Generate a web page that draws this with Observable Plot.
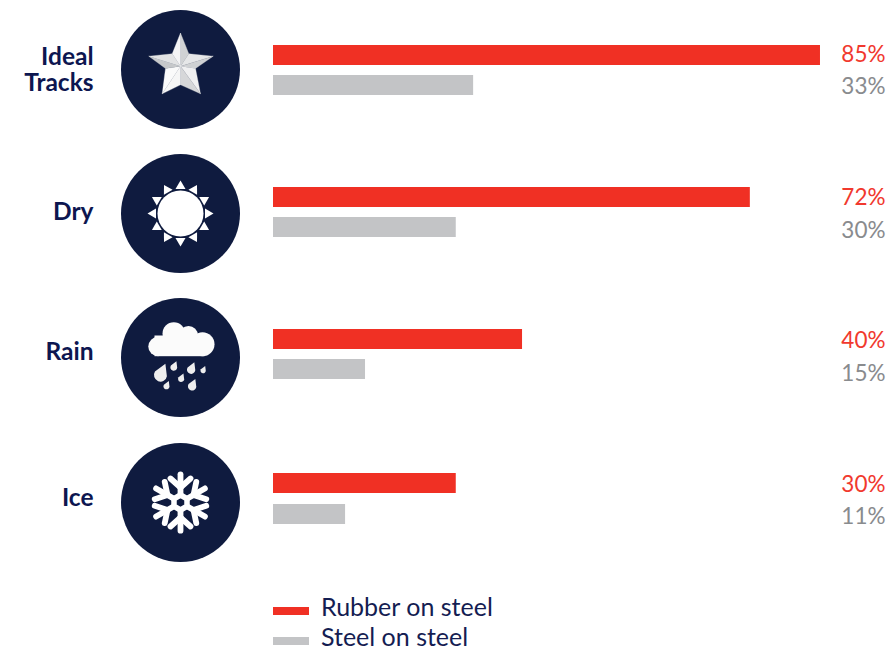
<!DOCTYPE html>
<html>
<head>
<meta charset="utf-8">
<script src="https://cdn.jsdelivr.net/npm/d3@7"></script>
<script src="https://cdn.jsdelivr.net/npm/@observablehq/plot@0.6"></script>
<style>
html,body{margin:0;padding:0;background:#fff;overflow:hidden}
#chart svg{display:block;background:#fff}
#legend{position:relative;height:51px;font-family:Lato,sans-serif}
.sw{position:absolute;width:36px;height:8px}
.lb{position:absolute;white-space:nowrap;font-size:25px;line-height:18px;color:#141d52}
</style>
</head>
<body>
<div id="chart"></div>
<div id="legend"></div>
<script>
const conditions = ["Ideal\nTracks", "Dry", "Rain", "Ice"];
const series = ["Rubber on steel", "Steel on steel"];
const rubberLabels = ["85%", "72%", "40%", "30%"];
const steelLabels = ["33%", "30%", "15%", "11%"];
// bar lengths as drawn in the picture, in the units of the x axis (percent)
const rubberBars = [85, 74.1, 38.7, 28.4];
const steelBars = [31.1, 28.4, 14.3, 11.2];

const RED = "#f03024", GRAY = "#c3c4c6", NAVY = "#0f1b3f", TEXT = "#0d1650", GTEXT = "#898b8e", REDTEXT = "#f1392e";

// ---- pictograms
const wrap = s => "data:image/svg+xml;utf8," + encodeURIComponent(
  `<svg xmlns="http://www.w3.org/2000/svg" viewBox="0 0 100 100" width="100" height="100">${s}</svg>`);
const star = (() => {
  const c = [50, 46.7];
  const pts = [[50,13.5],[58.3,34.3],[82.7,36.7],[65,49],[70,74.3],[50,65.3],[31.7,74.3],[35,49],[18.3,36.7],[41.7,34.3]];
  const fills = ["#d0d2d4","#e6e7e8","#cfd1d3","#f0f0f1","#d6d7d9","#f6f6f6","#fafafa","#c6c8ca","#e2e3e4","#f4f4f5"];
  return pts.map((p, i) => {
    const q = pts[(i + 1) % 10];
    return `<path d="M${c}L${p}L${q}Z" fill="${fills[i]}" stroke="${fills[i]}" stroke-width=".3"/>`;
  }).join("");
})();
const sun = (() => {
  let s = `<circle cx="50" cy="50" r="23" fill="#fff"/>`;
  for (let a = 0; a < 360; a += 30)
    s += `<path d="M50 17L55 25.5L45 25.5Z" fill="#fff" transform="rotate(${a} 50 50)"/>`;
  return s;
})();
const drop = (x, y, r) => {
  const X = v => 10 + v / 3, Y = v => 8 + v / 3;
  const cx = X(x), cy = Y(y), R = 1.15 * r / 3;
  return `<path d="M${cx + .75 * R} ${cy - 1.7 * R}L${cx - .85 * R} ${cy - .5 * R}A${R} ${R} 0 1 0 ${cx + .98 * R} ${cy + .2 * R}Z" fill="#eeeeee"/>`;
};
const rain = `<g fill="#fbfbfb"><circle cx="43.3" cy="26" r="11.3"/><circle cx="58" cy="28" r="9.5"/><circle cx="72" cy="36.7" r="12"/><circle cx="27.5" cy="39" r="9.7"/><rect x="24" y="28" width="50" height="20.7"/></g>`
  + [[60,178,17],[100,155,9],[152,162,11],[188,165,7],[122,190,8],[78,212,8],[155,212,11]].map(d => drop(...d)).join("");
const snow = (() => {
  let s = `<g fill="none" stroke="#fff" stroke-linecap="round" stroke-linejoin="round"><path d="M50 42.5L56.5 46.25V53.75L50 57.5L43.5 53.75V46.25Z" stroke-width="5.5"/>`;
  for (let a = 0; a < 360; a += 60)
    s += `<g transform="rotate(${a} 50 50)" stroke-width="5.8"><path d="M50 41V21.8"/><path d="M50 35L40 26"/><path d="M50 35L60 26"/></g>`;
  return s + "</g>";
})();
const icons = [star, sun, rain, snow].map(wrap);

// ---- chart
const rows = conditions.map((name, i) => ({
  name, rubber: rubberBars[i], steel: steelBars[i], rl: rubberLabels[i], sl: steelLabels[i], icon: icons[i]
}));
const circleDy = [14, 16, 18, 21];   // circle centre relative to the red bar centre
const nameDy = [14, 14, 12, 16];
const redBarDy = [0, 0, 0, 2];
const greyBarDy = [30, 30, 30, 33];
const redDy = [-1, 0, 1, 3];
const greyDy = [31, 33, 34, 35];
const each = (f) => rows.flatMap((d, i) => f([d], i));

const chart = Plot.plot({
  width: 893,
  height: 595,
  margin: 0,
  x: {domain: [0, 100], range: [273, 916.5], axis: null},
  y: {type: "band", domain: conditions, range: [45, 493], paddingInner: 0.86, paddingOuter: 0, align: 0, axis: null},
  marks: [
    each((d, i) => Plot.barX(d, {y: "name", x: "rubber", fill: RED, dy: redBarDy[i]})),
    each((d, i) => Plot.barX(d, {y: "name", x: "steel", fill: GRAY, dy: greyBarDy[i]})),
    each((d, i) => Plot.dot(d, {y: "name", frameAnchor: "left", dx: 180, dy: circleDy[i], r: 59.5, fill: NAVY, stroke: null})),
    each((d, i) => Plot.image(d, {y: "name", frameAnchor: "left", dx: 180, dy: circleDy[i], width: 100, height: 100, src: "icon"})),
    each((d, i) => Plot.text(d, {
      y: "name", text: "name", frameAnchor: "left", dx: 93, dy: nameDy[i], textAnchor: "end",
      fontFamily: "Lato", fontWeight: 700, fontSize: 24.5, lineHeight: 1.07, fill: TEXT
    })),
    each((d, i) => Plot.text(d, {
      y: "name", text: "rl", frameAnchor: "right", dx: -8, dy: redDy[i], textAnchor: "end",
      fontFamily: "Lato", fontSize: 22.5, fill: REDTEXT
    })),
    each((d, i) => Plot.text(d, {
      y: "name", text: "sl", frameAnchor: "right", dx: -8, dy: greyDy[i], textAnchor: "end",
      fontFamily: "Lato", fontSize: 22.5, fill: GTEXT
    }))
  ]
});
document.getElementById("chart").append(chart);

// ---- legend
const lg = document.getElementById("legend");
const swTop = [12, 42], lbTop = [2, 32], swCol = [RED, GRAY];
series.forEach((s, i) => {
  const sw = document.createElement("div");
  sw.className = "sw";
  sw.style.cssText = `left:273px;top:${swTop[i]}px;background:${swCol[i]}`;
  const lb = document.createElement("div");
  lb.className = "lb";
  lb.style.cssText = `left:321px;top:${lbTop[i]}px`;
  lb.textContent = s;
  lg.append(sw, lb);
});
</script>
</body>
</html>
